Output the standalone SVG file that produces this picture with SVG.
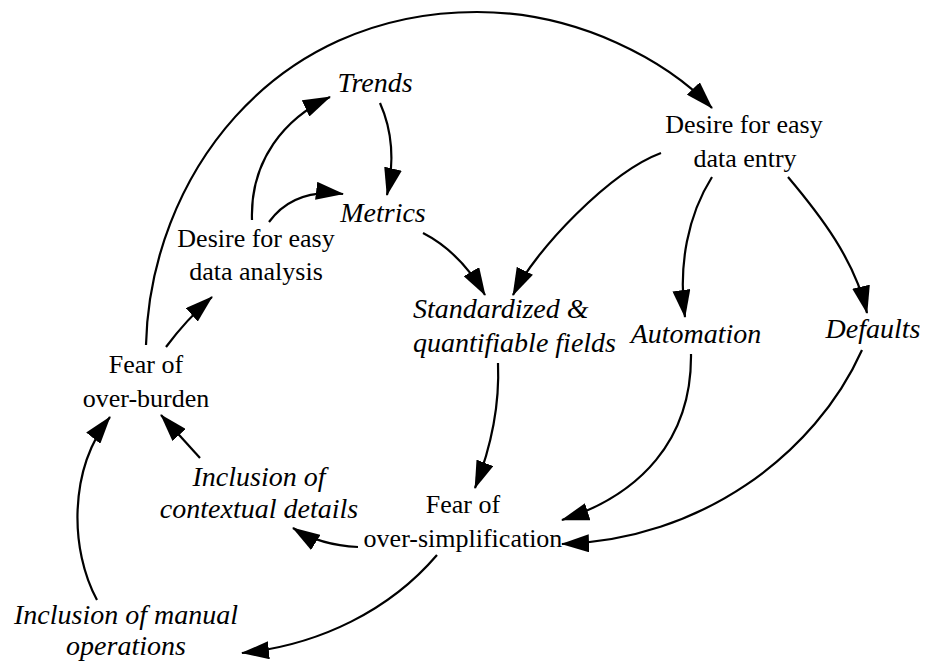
<svg xmlns="http://www.w3.org/2000/svg" width="925" height="665" viewBox="0 0 925 665">
  <style>
    .lbl { font-size: 26px; fill: #000; text-anchor: middle; }
    .it { font-size: 28px; font-style: italic; fill: #000; text-anchor: middle; }
    .left { text-anchor: start; }
    .edge { fill: none; stroke: #000; stroke-width: 2.2; marker-end: url(#head); }
  </style>
  <defs>
    <!-- solid triangular arrowhead shared by every connector -->
    <marker id="head" markerUnits="userSpaceOnUse" markerWidth="28" markerHeight="18" viewBox="0 0 28 18" refX="27" refY="9" orient="auto">
      <path d="M0,0 L28,9 L0,18 z" fill="#000"/>
    </marker>
  </defs>
  <rect width="925" height="665" fill="#fff"/>

  <g id="connectors">
    <!-- long arc over the top -->
    <path class="edge" d="M146,345 C150,180 270,12 477,12 C580,12 668,62 712,108"/>
    <path class="edge" d="M252,220 C250,160 285,118 330,97"/>
    <path class="edge" d="M269,222 C285,200 310,190 343,194"/>
    <path class="edge" d="M380,103 C392,130 395,160 387,195"/>
    <path class="edge" d="M423,233 Q460,252 485,295"/>
    <path class="edge" d="M661,153 C610,172 535,250 513,295"/>
    <path class="edge" d="M712,177 C688,215 678,265 685,317"/>
    <path class="edge" d="M788,177 C820,215 855,260 867,313"/>
    <path class="edge" d="M166,347 Q186,320 212,297"/>
    <path class="edge" d="M200,458 L161,415"/>
    <path class="edge" d="M97,600 C70,550 68,470 110,417"/>
    <path class="edge" d="M358,547 C335,546 312,540 293,528"/>
    <path class="edge" d="M437,555 C390,610 320,645 242,653"/>
    <path class="edge" d="M498,363 C500,410 490,450 475,488"/>
    <path class="edge" d="M691,354 C692,440 640,495 562,520"/>
    <path class="edge" d="M862,350 C815,455 700,540 562,544"/>
  </g>

  <g font-family="'Liberation Serif', serif">
    <g id="trends"><text class="it" x="375" y="92">Trends</text></g>
    <g id="metrics"><text class="it" x="383" y="222">Metrics</text></g>
    <g id="desire-analysis">
      <text class="lbl" x="256" y="247">Desire for easy</text>
      <text class="lbl" x="256" y="280">data analysis</text>
    </g>
    <g id="desire-entry">
      <text class="lbl" x="744" y="133">Desire for easy</text>
      <text class="lbl" x="745" y="167">data entry</text>
    </g>
    <g id="standardized">
      <text class="it left" x="413" y="318">Standardized &amp;</text>
      <text class="it left" x="413" y="352">quantifiable fields</text>
    </g>
    <g id="automation"><text class="it" x="696" y="343">Automation</text></g>
    <g id="defaults"><text class="it" x="873" y="338">Defaults</text></g>
    <g id="fear-burden">
      <text class="lbl" x="146" y="373">Fear of</text>
      <text class="lbl" x="146" y="407">over-burden</text>
    </g>
    <g id="contextual">
      <text class="it" x="259" y="486">Inclusion of</text>
      <text class="it" x="259" y="518">contextual details</text>
    </g>
    <g id="fear-simplification">
      <text class="lbl" x="463" y="513">Fear of</text>
      <text class="lbl" x="463" y="547">over-simplification</text>
    </g>
    <g id="manual">
      <text class="it" x="126" y="624">Inclusion of manual</text>
      <text class="it" x="126" y="655">operations</text>
    </g>
  </g>
</svg>
